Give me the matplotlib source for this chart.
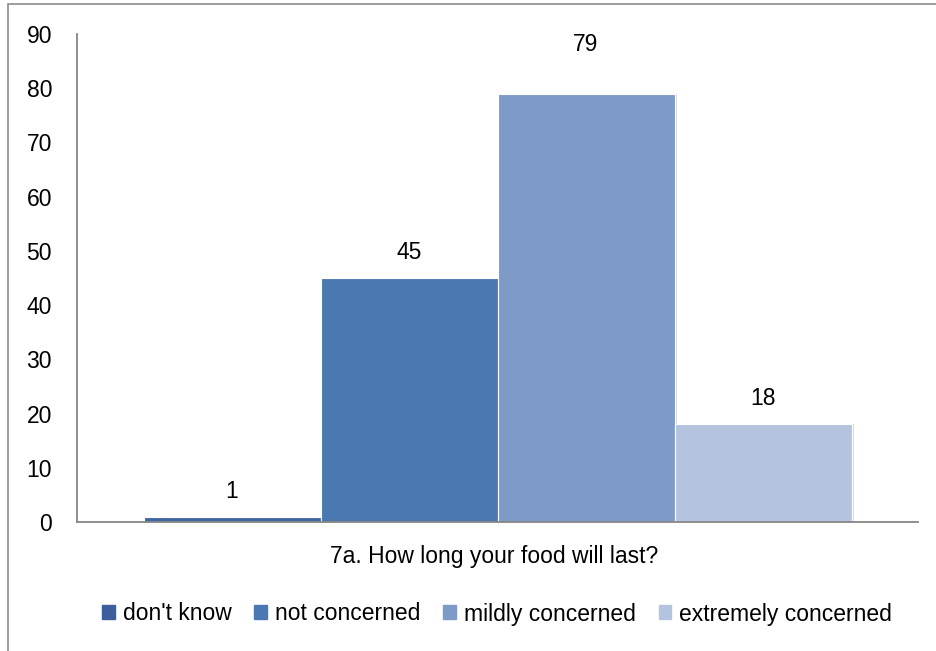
import matplotlib.pyplot as plt
import matplotlib.patches as mpatches
import numpy as np

plt.rcParams['font.family'] = ['Liberation Sans', 'DejaVu Sans']

categories = ["don't know", "not concerned", "mildly concerned", "extremely concerned"]
values = [1, 45, 79, 18]
colors = ['#3F68A3', '#4A78B0', '#7E9BC8', '#B4C4DF']
legend_colors = ['#3B5F9C', '#4A78B3', '#7E9BC8', '#B4C4DF']
group_label = "7a. How long your food will last?"
yticks = np.arange(0, 91, 10)
label_pad = [14, 14, 38, 14]  # px above bar top

fs = 16.5

fig = plt.figure(figsize=(9.36, 6.51), dpi=100)
ax = fig.add_axes([77/936, 1-522/651, (918-77)/936, (522-34)/651])

# outer chart border (cropped on right / bottom)
fig.patches.append(mpatches.Rectangle((8/936, -0.05), 1.2, 1.05-4/651, transform=fig.transFigure,
                                      fill=False, edgecolor='#8C8C8C', linewidth=1.2))

bw = 177/841
x0 = 0.5 - 2*bw
for i, (v, c) in enumerate(zip(values, colors)):
    x = x0 + i*bw
    # faint shadow
    ax.bar(x + 0.003, v, width=bw, align='edge', color='#D8D8D8', zorder=1)
    ax.bar(x, v, width=bw, align='edge', color=c, edgecolor='white', linewidth=0.8, zorder=2)
    ax.annotate(str(v), (x + bw/2, v), xytext=(0, label_pad[i]), textcoords='offset pixels',
                ha='center', va='bottom', fontsize=fs, color='black')

ax.set_xlim(0, 1)
ax.set_ylim(0, 90)
ax.set_yticks(yticks)
ax.set_yticklabels([str(t) for t in yticks], fontsize=fs)
ax.tick_params(axis='y', length=0, pad=18)
ax.set_xticks([])
for s in ['top', 'right']:
    ax.spines[s].set_visible(False)
for s in ['left', 'bottom']:
    ax.spines[s].set_color('#868686')
    ax.spines[s].set_linewidth(1.3)

fig.text(494/936, 1-556/651, group_label, ha='center', va='center', fontsize=fs)

handles = [mpatches.Patch(color=c, label=l) for c, l in zip(legend_colors, categories)]
fig.legend(handles=handles, loc='center', bbox_to_anchor=(497/936, 1-614/651), ncol=4,
           frameon=False, fontsize=fs, handlelength=0.55, handleheight=0.55,
           handletextpad=0.35, columnspacing=1.0)

fig.savefig('out.png', dpi=100)
